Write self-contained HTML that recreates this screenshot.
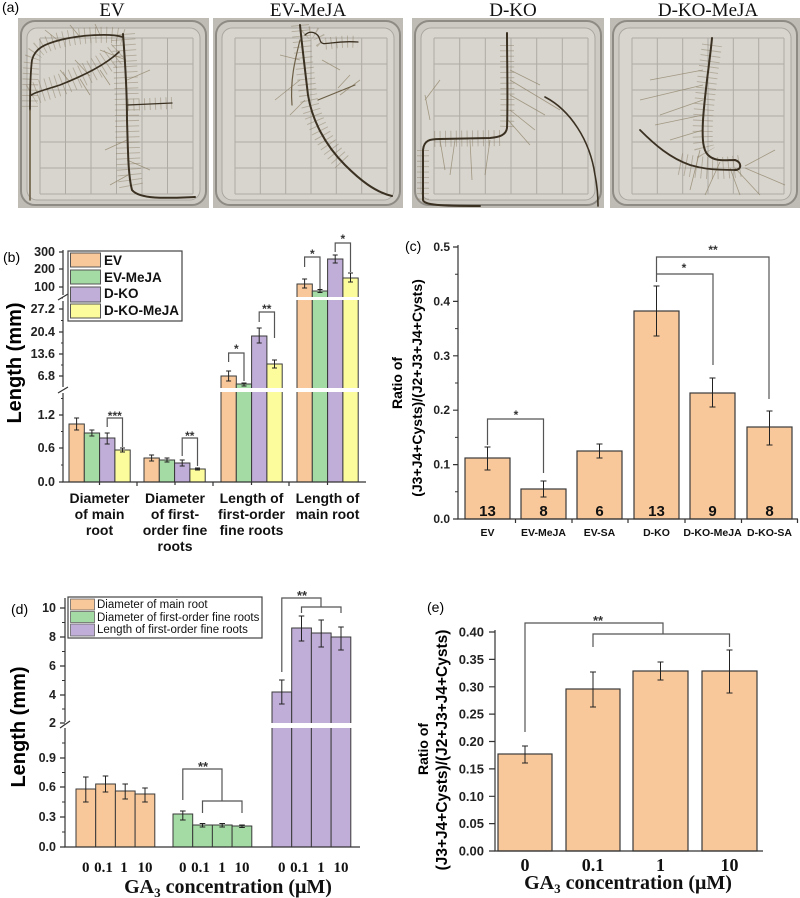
<!DOCTYPE html>
<html><head><meta charset="utf-8"><style>
html,body{margin:0;padding:0;background:#fff;}
svg{display:block;}
.s{font-family:"Liberation Sans",Arial,sans-serif;}
.b{font-family:"Liberation Sans",Arial,sans-serif;font-weight:bold;}
.t{font-family:"Liberation Serif","Times New Roman",serif;}
.tb{font-family:"Liberation Serif","Times New Roman",serif;font-weight:bold;}
</style></head><body>
<svg width="800" height="898" viewBox="0 0 800 898" xmlns="http://www.w3.org/2000/svg">
<rect width="800" height="898" fill="#fff"/>

<!-- ===== Panel (a) ===== -->
<text x="2" y="12" class="s" font-size="14">(a)</text>
<g class="t" font-size="19" text-anchor="middle" fill="#111">
<text x="112" y="16">EV</text>
<text x="308" y="16">EV-MeJA</text>
<text x="513" y="16">D-KO</text>
<text x="708" y="16">D-KO-MeJA</text>
</g>

<g>
<rect x="18" y="18" width="191" height="190" fill="#bfbcb5"/>
<rect x="21" y="21" width="185" height="184" rx="14" fill="#cdcac3" stroke="#8e8b85" stroke-width="2"/>
<rect x="27" y="28" width="173" height="172" rx="10" fill="#d8d5ce" stroke="#a9a6a0"/>
<path d="M40,38V194M65.5,38V194M91,38V194M116.5,38V194M142,38V194M167.5,38V194M193,38V194M40,38H193M40,64H193M40,90H193M40,116H193M40,142H193M40,168H193M40,194H193" stroke="#aeaba4" stroke-width="1" fill="none"/>
<rect x="213" y="18" width="190" height="190" fill="#bfbcb5"/>
<rect x="216" y="21" width="184" height="184" rx="14" fill="#cdcac3" stroke="#8e8b85" stroke-width="2"/>
<rect x="222" y="28" width="172" height="172" rx="10" fill="#d8d5ce" stroke="#a9a6a0"/>
<path d="M235,38V194M260.3,38V194M285.7,38V194M311,38V194M336.3,38V194M361.7,38V194M387,38V194M235,38H387M235,64H387M235,90H387M235,116H387M235,142H387M235,168H387M235,194H387" stroke="#aeaba4" stroke-width="1" fill="none"/>
<rect x="412" y="18" width="192" height="190" fill="#bfbcb5"/>
<rect x="415" y="21" width="186" height="184" rx="14" fill="#cdcac3" stroke="#8e8b85" stroke-width="2"/>
<rect x="421" y="28" width="174" height="172" rx="10" fill="#d8d5ce" stroke="#a9a6a0"/>
<path d="M434,38V194M459.7,38V194M485.3,38V194M511,38V194M536.7,38V194M562.3,38V194M588,38V194M434,38H588M434,64H588M434,90H588M434,116H588M434,142H588M434,168H588M434,194H588" stroke="#aeaba4" stroke-width="1" fill="none"/>
<rect x="610" y="18" width="190" height="190" fill="#bfbcb5"/>
<rect x="613" y="21" width="184" height="184" rx="14" fill="#cdcac3" stroke="#8e8b85" stroke-width="2"/>
<rect x="619" y="28" width="172" height="172" rx="10" fill="#d8d5ce" stroke="#a9a6a0"/>
<path d="M632,38V194M657.3,38V194M682.7,38V194M708,38V194M733.3,38V194M758.7,38V194M784,38V194M632,38H784M632,64H784M632,90H784M632,116H784M632,142H784M632,168H784M632,194H784" stroke="#aeaba4" stroke-width="1" fill="none"/>
</g>

<g fill="none" stroke="#85785f" stroke-opacity="0.45" stroke-dasharray="0.9 4.5">
<path stroke-width="24" d="M123,34 C125,60 127,90 127,120 C128,150 128,175 132,190"/>
<path stroke-width="16" d="M123,37 C110,33 80,35 60,40 C45,44 35,48 32,60 C30,75 30,95 30,110"/>
<path stroke-width="22" d="M119,52 C105,65 85,75 60,85 C45,90 35,92 30,96"/>
<path stroke-width="12" d="M128,105 L172,103"/>
<path stroke-width="18" d="M300,25 C302,45 305,70 308,95 C312,120 325,145 345,165"/>
<path stroke-width="12" d="M305,35 C310,30 318,32 320,40 C322,48 330,40 358,42"/>
<path stroke-width="14" d="M507,45 C507,70 508,100 507,128"/>
<path stroke-width="16" d="M500,138 L430,139"/>
<path stroke-width="12" d="M423,150 L423,200"/>
<path stroke-width="20" d="M712,45 C710,60 705,90 703,120 C702,140 703,150 708,155"/>
<path stroke-width="22" d="M680,164 C700,168 715,170 740,166"/>
</g>
<g fill="none" stroke="#8a7d62" stroke-width="0.8" stroke-opacity="0.7">
<path d="M300,80 L275,100 M300,60 L280,55 M305,100 L290,115 M340,95 L360,80 M338,88 L350,75 M322,60 L340,70"/>
<path d="M510,70 L540,85 M510,80 L560,110 M510,95 L545,115 M510,110 L535,130 M508,120 L530,145 M490,140 L485,175 M470,140 L472,180 M455,140 L450,175 M440,140 L445,170 M425,100 L440,80 M430,120 L425,95"/>
<path d="M703,70 L650,80 M703,85 L640,100 M703,100 L660,115 M703,115 L655,125 M703,130 L670,140 M720,162 L705,195 M730,168 L740,195 M745,166 L775,150 M745,168 L785,185 M735,168 L760,195 M700,150 L690,190"/>
<path d="M60,42 L45,30 M80,37 L70,25 M100,35 L95,24 M90,76 L75,60 M70,82 L60,70 M100,70 L110,85 M80,79 L90,95 M127,140 L105,150 M127,160 L150,170 M128,175 L110,185 M127,80 L150,70 M126,60 L100,50"/>
</g>
<g fill="none" stroke="#3b3122" stroke-linecap="round">
<path stroke-width="2" d="M123,34 C125,60 127,90 127,120 C128,150 128,175 132,190 C140,200 170,198 195,197"/>
<path stroke-width="1.8" d="M123,37 C110,33 80,35 60,40 C45,44 35,48 32,60 C30,75 30,95 30,110"/>
<path stroke-width="1.6" d="M119,52 C105,65 85,75 60,85 C45,90 35,92 30,96"/>
<path stroke-width="1.3" d="M128,105 L172,103"/>
<path stroke-width="1.6" stroke="#6b5e45" d="M30,110 L30,200"/>
<path stroke-width="2" d="M300,25 C302,45 305,70 308,95 C312,120 325,145 345,165 C360,180 375,192 392,196"/>
<path stroke-width="1.3" d="M305,35 C310,30 318,32 320,40 C322,48 330,40 358,42"/>
<path stroke-width="1.2" stroke="#6b5e45" d="M300,40 C295,60 290,80 292,105 M318,100 L355,85"/>
<path stroke-width="2" d="M507,33 C507,60 508,100 507,128 C506,135 500,137 490,138 L440,139 C430,139 424,140 423,150 L423,200 C424,205 440,206 480,206"/>
<path stroke-width="1.6" d="M545,97 C570,110 590,140 595,175 C598,190 598,200 598,206"/>
<path stroke-width="2" d="M712,38 C710,60 705,90 703,120 C702,140 703,150 708,155 C715,162 725,160 735,160 C742,162 742,170 735,170"/>
<path stroke-width="1.8" d="M640,130 C655,145 670,158 690,165 C700,168 710,170 735,170"/>
</g>

<!-- ===== Panel (b) ===== -->
<text x="3" y="262" class="s" font-size="14">(b)</text>
<text transform="translate(21,363) rotate(-90)" class="b" font-size="20" text-anchor="middle">Length (mm)</text>
<g stroke="#3a3a3a" stroke-width="1">
<rect x="69" y="424" width="15.3" height="58" fill="#f8c89a"/>
<rect x="84.3" y="433" width="15.3" height="49" fill="#a4dba4"/>
<rect x="99.6" y="438" width="15.3" height="44" fill="#c0aed8"/>
<rect x="114.9" y="450" width="15.3" height="32" fill="#fcfc9c"/>
<rect x="144" y="458" width="15.3" height="24" fill="#f8c89a"/>
<rect x="159.3" y="460" width="15.3" height="22" fill="#a4dba4"/>
<rect x="174.6" y="463" width="15.3" height="19" fill="#c0aed8"/>
<rect x="189.9" y="469" width="15.3" height="13" fill="#fcfc9c"/>
<rect x="221" y="376" width="15.3" height="106" fill="#f8c89a"/>
<rect x="236.3" y="384" width="15.3" height="98" fill="#a4dba4"/>
<rect x="251.6" y="336" width="15.3" height="146" fill="#c0aed8"/>
<rect x="266.9" y="364" width="15.3" height="118" fill="#fcfc9c"/>
<rect x="297" y="284" width="15.3" height="198" fill="#f8c89a"/>
<rect x="312.3" y="291" width="15.3" height="191" fill="#a4dba4"/>
<rect x="327.6" y="259" width="15.3" height="223" fill="#c0aed8"/>
<rect x="342.9" y="278" width="15.3" height="204" fill="#fcfc9c"/>
</g>
<rect x="218" y="388" width="144" height="4" fill="#fff"/>
<rect x="294" y="297" width="68" height="3" fill="#fff"/>
<g stroke="#222" stroke-width="1" fill="none">
<path d="M76.6,418V430M74.1,418H79.1M74.1,430H79.1"/>
<path d="M91.9,430V436M89.4,430H94.4M89.4,436H94.4"/>
<path d="M107.2,433V444M104.7,433H109.7M104.7,444H109.7"/>
<path d="M122.5,448V452M120,448H125M120,452H125"/>
<path d="M151.6,455V461M149.1,455H154.1M149.1,461H154.1"/>
<path d="M167,458V462M164.5,458H169.5M164.5,462H169.5"/>
<path d="M182.2,460V466M179.7,460H184.7M179.7,466H184.7"/>
<path d="M197.5,468V470M195,468H200M195,470H200"/>
<path d="M228.6,371V381M226.1,371H231.1M226.1,381H231.1"/>
<path d="M244,383V386M241.5,383H246.5M241.5,386H246.5"/>
<path d="M259.2,328V343M256.7,328H261.7M256.7,343H261.7"/>
<path d="M274.5,360V368M272,360H277M272,368H277"/>
<path d="M304.6,279V288M302.1,279H307.1M302.1,288H307.1"/>
<path d="M320,289.5V292.5M317.5,289.5H322.5M317.5,292.5H322.5"/>
<path d="M335.2,255V263M332.7,255H337.7M332.7,263H337.7"/>
<path d="M350.5,273V282M348,273H353M348,282H353"/>
</g>
<g stroke="#555" stroke-width="1.2" fill="none">
<path d="M107.2,427V418H122.5V447"/>
<path d="M182.2,456V438H197.5V466"/>
<path d="M228.6,362V353H244V381"/>
<path d="M259.2,322V312H274.5V338"/>
<path d="M304.6,267V257H320V289"/>
<path d="M335.2,252V243H350.5V272"/>
</g>
<g class="b" font-size="12" text-anchor="middle" fill="#333">
<text x="114.8" y="420">***</text>
<text x="189.8" y="440">**</text>
<text x="236.3" y="353">*</text>
<text x="266.8" y="313">**</text>
<text x="312.3" y="258">*</text>
<text x="342.8" y="243">*</text>
</g>
<g stroke="#333" stroke-width="1.2" fill="none">
<path d="M63,250V295M63,301V387M63,393V482H366"/>
<path d="M59,252H63M59,269H63M59,287H63M59,309H63M59,332H63M59,354H63M59,376H63M59,415H63M59,448H63M59,482H63"/>
<path d="M61,320.5H63M61,343H63M61,365H63M61,298H63M61,431.5H63M61,465H63M61,398.5H63" stroke-width="1"/>
<path d="M58,300L68,294M58,393L68,387"/>
<path d="M137,482V486M213,482V486M289,482V486M99.5,482V485M175,482V485M251.5,482V485M327.5,482V485"/>
</g>
<g class="b" font-size="12.5" text-anchor="end" fill="#222">
<text x="55" y="256">300</text>
<text x="55" y="273">200</text>
<text x="55" y="291">100</text>
<text x="55" y="313">27.2</text>
<text x="55" y="336">20.4</text>
<text x="55" y="358">13.6</text>
<text x="55" y="380">6.8</text>
<text x="55" y="419">1.2</text>
<text x="55" y="452">0.6</text>
<text x="55" y="486">0.0</text>
</g>
<rect x="68" y="251" width="114" height="70" fill="#fff" stroke="#444" stroke-width="1.2"/>
<g stroke="#555" stroke-width="1">
<rect x="70.5" y="253" width="30" height="14" fill="#f8c89a"/>
<rect x="70.5" y="270" width="30" height="14" fill="#a4dba4"/>
<rect x="70.5" y="287" width="30" height="15" fill="#c0aed8"/>
<rect x="70.5" y="304" width="30" height="14" fill="#fcfc9c"/>
</g>
<g class="b" font-size="13.5" fill="#111">
<text x="104" y="265">EV</text>
<text x="104" y="282">EV-MeJA</text>
<text x="104" y="298">D-KO</text>
<text x="104" y="315">D-KO-MeJA</text>
</g>
<g class="b" font-size="14" text-anchor="middle" fill="#111">
<text x="99.5" y="503">Diameter</text>
<text x="99.5" y="519">of main</text>
<text x="99.5" y="535">root</text>
<text x="175" y="503">Diameter</text>
<text x="175" y="519">of first-</text>
<text x="175" y="535">order fine</text>
<text x="175" y="551">roots</text>
<text x="251.5" y="503">Length of</text>
<text x="251.5" y="519">first-order</text>
<text x="251.5" y="535">fine roots</text>
<text x="327.5" y="503">Length of</text>
<text x="327.5" y="519">main root</text>
</g>

<!-- ===== Panel (c) ===== -->
<text x="405" y="251" class="s" font-size="14">(c)</text>
<text transform="translate(402,383) rotate(-90)" class="b" font-size="14" text-anchor="middle">Ratio of</text>
<text transform="translate(422,388) rotate(-90)" class="b" font-size="14" text-anchor="middle">(J3+J4+Cysts)/(J2+J3+J4+Cysts)</text>
<g stroke="#3a3a3a" stroke-width="1.2" fill="#f8c89a">
<rect x="465" y="458" width="45" height="61"/>
<rect x="521" y="489" width="45" height="30"/>
<rect x="577" y="451" width="45" height="68"/>
<rect x="634" y="311" width="45" height="208"/>
<rect x="690" y="393" width="45" height="126"/>
<rect x="747" y="427" width="45" height="92"/>
</g>
<g stroke="#222" stroke-width="1" fill="none">
<path d="M487.5,447V470M484.5,447H490.5M484.5,470H490.5"/>
<path d="M543.5,481V497M540.5,481H546.5M540.5,497H546.5"/>
<path d="M599.5,444V458M596.5,444H602.5M596.5,458H602.5"/>
<path d="M656.5,286V336M653.5,286H659.5M653.5,336H659.5"/>
<path d="M712.5,378V407M709.5,378H715.5M709.5,407H715.5"/>
<path d="M769.5,411V445M766.5,411H772.5M766.5,445H772.5"/>
</g>
<g stroke="#555" stroke-width="1.2" fill="none">
<path d="M487.5,445V419H543.5V473"/>
<path d="M656.5,282V257H769V399"/>
<path d="M656.5,274H713V365"/>
</g>
<g class="b" font-size="12" text-anchor="middle" fill="#333">
<text x="516" y="419">*</text>
<text x="713" y="254">**</text>
<text x="684" y="272">*</text>
</g>
<g class="b" font-size="15" text-anchor="middle" fill="#111">
<text x="487.5" y="516">13</text>
<text x="543.5" y="516">8</text>
<text x="599.5" y="516">6</text>
<text x="656.5" y="516">13</text>
<text x="712.5" y="516">9</text>
<text x="769.5" y="516">8</text>
</g>
<g stroke="#333" stroke-width="1.2" fill="none">
<path d="M458,245V519H798"/>
<path d="M453,247H458M453,301.4H458M453,355.8H458M453,410.2H458M453,464.6H458M453,519H458"/>
<path d="M455,274.2H458M455,328.6H458M455,383H458M455,437.4H458M455,491.8H458" stroke-width="1"/>
<path d="M515.5,519V523M572,519V523M628,519V523M685,519V523M741.5,519V523M797.5,519V523"/>
</g>
<g class="b" font-size="12" text-anchor="end" fill="#222">
<text x="450" y="251">0.5</text>
<text x="450" y="305.4">0.4</text>
<text x="450" y="359.8">0.3</text>
<text x="450" y="414.2">0.2</text>
<text x="450" y="468.6">0.1</text>
<text x="450" y="523">0.0</text>
</g>
<g class="b" font-size="10.5" text-anchor="middle" fill="#111">
<text x="487.5" y="536">EV</text>
<text x="543.5" y="536">EV-MeJA</text>
<text x="599.5" y="536">EV-SA</text>
<text x="656.5" y="536">D-KO</text>
<text x="712.5" y="536">D-KO-MeJA</text>
<text x="769.5" y="536">D-KO-SA</text>
</g>

<!-- ===== Panel (d) ===== -->
<text x="11" y="614" class="s" font-size="14">(d)</text>
<text transform="translate(25,727) rotate(-90)" class="b" font-size="20" text-anchor="middle">Length (mm)</text>
<g stroke="#3a3a3a" stroke-width="1">
<rect x="76" y="789" width="19.7" height="58" fill="#f8c89a"/>
<rect x="95.7" y="784" width="19.7" height="63" fill="#f8c89a"/>
<rect x="115.4" y="791" width="19.7" height="56" fill="#f8c89a"/>
<rect x="135.1" y="794" width="19.7" height="53" fill="#f8c89a"/>
<rect x="173" y="814" width="19.7" height="33" fill="#a4dba4"/>
<rect x="192.7" y="825" width="19.7" height="22" fill="#a4dba4"/>
<rect x="212.4" y="825" width="19.7" height="22" fill="#a4dba4"/>
<rect x="232.1" y="826" width="19.7" height="21" fill="#a4dba4"/>
<rect x="272" y="692" width="19.7" height="155" fill="#c0aed8"/>
<rect x="291.7" y="628" width="19.7" height="219" fill="#c0aed8"/>
<rect x="311.4" y="633" width="19.7" height="214" fill="#c0aed8"/>
<rect x="331.1" y="637" width="19.7" height="210" fill="#c0aed8"/>
</g>
<rect x="269" y="723" width="86" height="5" fill="#fff"/>
<g stroke="#222" stroke-width="1" fill="none">
<path d="M85.8,777V802M83,777H88.6M83,802H88.6"/>
<path d="M105.5,776V792M102.7,776H108.3M102.7,792H108.3"/>
<path d="M125.2,784V799M122.4,784H128M122.4,799H128"/>
<path d="M145,788V802M142.2,788H147.8M142.2,802H147.8"/>
<path d="M182.8,811V820M180,811H185.6M180,820H185.6"/>
<path d="M202.5,823.5V827M199.7,823.5H205.3M199.7,827H205.3"/>
<path d="M222.2,823.5V827M219.4,823.5H225M219.4,827H225"/>
<path d="M242,825V827.5M239.2,825H244.8M239.2,827.5H244.8"/>
<path d="M281.8,680V704M279,680H284.6M279,704H284.6"/>
<path d="M301.5,616V641M298.7,616H304.3M298.7,641H304.3"/>
<path d="M321.2,620V647M318.4,620H324M318.4,647H324"/>
<path d="M341,627V650M338.2,627H343.8M338.2,650H343.8"/>
</g>
<g stroke="#555" stroke-width="1.2" fill="none">
<path d="M182.8,800V769H222V801"/>
<path d="M202.5,813V801H242V813"/>
<path d="M281.8,672V598H321V607"/>
<path d="M301.5,613V607H341V613"/>
</g>
<g class="b" font-size="13" text-anchor="middle" fill="#333">
<text x="203" y="771">**</text>
<text x="302" y="600">**</text>
</g>
<g stroke="#333" stroke-width="1.2" fill="none">
<path d="M65,598V722M65,728V847H360"/>
<path d="M60,608H65M60,637H65M60,666H65M60,695H65M60,723H65M60,758H65M60,787H65M60,817H65M60,847H65"/>
<path d="M62,622.5H65M62,651.5H65M62,680.5H65M62,709H65M62,743H65M62,772.5H65M62,802H65M62,832H65" stroke-width="1"/>
<path d="M60,728L70,721"/>
</g>
<g class="b" font-size="12.5" text-anchor="end" fill="#222">
<text x="56" y="612">10</text>
<text x="56" y="641">8</text>
<text x="56" y="670">6</text>
<text x="56" y="699">4</text>
<text x="56" y="727">2</text>
<text x="56" y="762">0.9</text>
<text x="56" y="791">0.6</text>
<text x="56" y="821">0.3</text>
<text x="56" y="851">0.0</text>
</g>
<rect x="68" y="597" width="194" height="41" fill="#fff" stroke="#444" stroke-width="1.2"/>
<g stroke="#666" stroke-width="0.8">
<rect x="70.5" y="599" width="24" height="11" fill="#f8c89a"/>
<rect x="70.5" y="611.5" width="24" height="11" fill="#a4dba4"/>
<rect x="70.5" y="624" width="24" height="12" fill="#c0aed8"/>
</g>
<g class="s" font-size="11.5" fill="#111">
<text x="97" y="608">Diameter of main root</text>
<text x="97" y="621">Diameter of first-order fine roots</text>
<text x="97" y="633">Length of first-order fine roots</text>
</g>
<g class="tb" font-size="15" text-anchor="middle" fill="#111">
<text x="85.8" y="872">0</text>
<text x="103.5" y="872">0.1</text>
<text x="124" y="872">1</text>
<text x="145" y="872">10</text>
<text x="182.8" y="872">0</text>
<text x="200.5" y="872">0.1</text>
<text x="222" y="872">1</text>
<text x="242" y="872">10</text>
<text x="281.8" y="872">0</text>
<text x="299.5" y="872">0.1</text>
<text x="321" y="872">1</text>
<text x="341" y="872">10</text>
</g>
<text x="228" y="893" class="tb" font-size="20" text-anchor="middle" fill="#111">GA<tspan font-size="13" dy="4">3</tspan><tspan dy="-4"> concentration (μM)</tspan></text>

<!-- ===== Panel (e) ===== -->
<text x="427" y="612" class="s" font-size="14">(e)</text>
<text transform="translate(428,749) rotate(-90)" class="b" font-size="14" text-anchor="middle">Ratio of</text>
<text transform="translate(447,750) rotate(-90)" class="b" font-size="15.5" text-anchor="middle">(J3+J4+Cysts)/(J2+J3+J4+Cysts)</text>
<g stroke="#3a3a3a" stroke-width="1.2" fill="#f8c89a">
<rect x="498" y="754" width="54" height="97"/>
<rect x="566" y="689" width="54" height="162"/>
<rect x="633" y="671" width="55" height="180"/>
<rect x="702" y="671" width="55" height="180"/>
</g>
<g stroke="#222" stroke-width="1" fill="none">
<path d="M525,746V763M522,746H528M522,763H528"/>
<path d="M593,672V707M590,672H596M590,707H596"/>
<path d="M660.5,662V680M657.5,662H663.5M657.5,680H663.5"/>
<path d="M729.5,650V693M726.5,650H732.5M726.5,693H732.5"/>
</g>
<g stroke="#555" stroke-width="1.2" fill="none">
<path d="M525,732V623H663V634"/>
<path d="M593,647V634H729.5V647"/>
</g>
<text x="598" y="625" class="b" font-size="13" text-anchor="middle" fill="#333">**</text>
<g stroke="#333" stroke-width="1.2" fill="none">
<path d="M495,630V851H763"/>
<path d="M489,632H495M489,659.4H495M489,686.8H495M489,714.1H495M489,741.5H495M489,768.9H495M489,796.3H495M489,823.6H495M489,851H495"/>
</g>
<g class="b" font-size="13" text-anchor="end" fill="#222">
<text x="484" y="636.5">0.40</text>
<text x="484" y="663.9">0.35</text>
<text x="484" y="691.3">0.30</text>
<text x="484" y="718.6">0.25</text>
<text x="484" y="746">0.20</text>
<text x="484" y="773.4">0.15</text>
<text x="484" y="800.8">0.10</text>
<text x="484" y="828.1">0.05</text>
<text x="484" y="855.5">0.00</text>
</g>
<g class="tb" font-size="18" text-anchor="middle" fill="#111">
<text x="525" y="871">0</text>
<text x="593" y="871">0.1</text>
<text x="660.5" y="871">1</text>
<text x="729.5" y="871">10</text>
</g>
<text x="628" y="889" class="tb" font-size="20" text-anchor="middle" fill="#111">GA<tspan font-size="13" dy="4">3</tspan><tspan dy="-4"> concentration (μM)</tspan></text>
</svg>
</body></html>
